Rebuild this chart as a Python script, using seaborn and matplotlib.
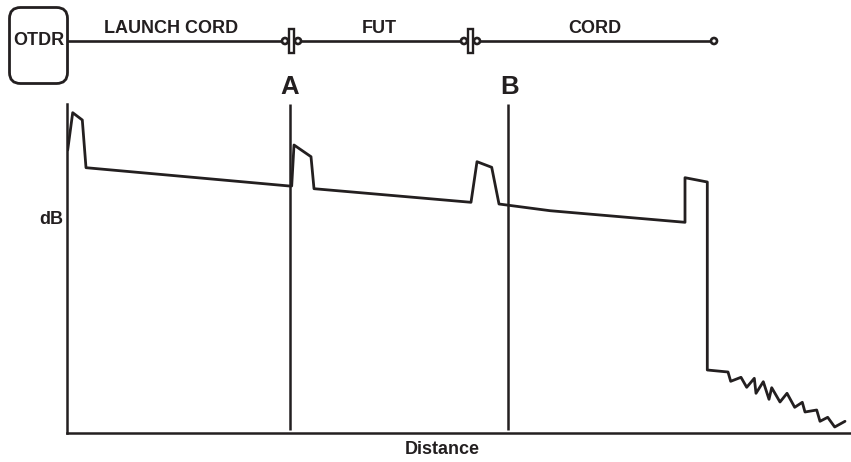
import matplotlib
matplotlib.use('Agg')
import pandas as pd
import seaborn as sns
import matplotlib.pyplot as plt
from matplotlib.patches import FancyBboxPatch, Circle, Rectangle

# trace (distance / dB in pixels from the axes corner)
distance = [0.7, 5.7, 15.3, 19, 222.3, 224.7, 227, 244, 247, 404, 410, 424.7, 432, 483, 618, 618, 640.3, 640.3,
            661, 663.7, 674, 679.7, 687.3, 689, 696.3, 702, 704.7, 713, 720, 727.7, 735.3, 738, 749.7, 753, 760.7, 767.7, 778]
db = [283, 320.3, 313, 265.3, 247, 247, 288, 276.3, 244.3, 230.7, 271.3, 265.7, 229, 222.3, 210.7, 255.3, 251, 63,
      61, 51.7, 55.7, 45.7, 54.7, 39.7, 51.3, 33.7, 45.3, 31, 39.7, 25.7, 30.7, 21, 23, 11.7, 15.7, 6, 11.7]
markers_x = [222.5, 441]
marker_names = ['A', 'B']
cord_names = ['LAUNCH CORD', 'FUT', 'CORD']
cord_label_x = [171.5, 379, 595]
connector_x = [291.5, 470.5]

df = pd.DataFrame({'Distance': distance, 'dB': db})
ink = '#231f20'
W, H = 851, 462

sns.set_style('white')
plt.rcParams['font.family'] = ['Liberation Sans', 'DejaVu Sans']

fig = plt.figure(figsize=(W / 100, H / 100), dpi=100)

# chart axes
ax = fig.add_axes([67 / W, 1 - 433 / H, (W - 67) / W, 329 / H])
sns.lineplot(data=df, x='Distance', y='dB', sort=False, estimator=None, color=ink, lw=2, ax=ax)
ax.set_xlim(0, W - 67)
ax.set_ylim(0, 329)
ax.vlines(markers_x, 3, 329, color=ink, lw=1.8)
ax.set_xticks([])
ax.set_yticks([])
ax.set_xlabel('')
ax.set_ylabel('')
sns.despine(ax=ax)
for s in ['left', 'bottom']:
    ax.spines[s].set_linewidth(1.8)
    ax.spines[s].set_color(ink)
ax.patch.set_alpha(0)

# overlay in pixel coordinates for the cable diagram and labels
top = fig.add_axes([0, 0, 1, 1])
top.set_xlim(0, W)
top.set_ylim(H, 0)
top.axis('off')
top.patch.set_alpha(0)

top.add_patch(FancyBboxPatch((9.5, 7.5), 58, 76, boxstyle='round,pad=0,rounding_size=11',
                             fc='white', ec=ink, lw=2))
top.plot([68, 711], [41, 41], color=ink, lw=1.9)
for cx in connector_x:
    for off in [-6.5, 6.5]:
        top.add_patch(Circle((cx + off, 41), 3, fc='white', ec=ink, lw=1.9, zorder=3))
    top.add_patch(Rectangle((cx - 2.5, 28.5), 4.5, 24.5, fc='white', ec=ink, lw=1.7, zorder=4))
top.add_patch(Circle((714, 41), 3, fc='white', ec=ink, lw=1.9, zorder=3))

bold = dict(color=ink, fontweight='bold', ha='center', va='center')
top.text(38.5, 40.5, 'OTDR', fontsize=13, **bold)
for name, x in zip(cord_names, cord_label_x):
    top.text(x, 28.5, name, fontsize=13, **bold)
for name, x in zip(marker_names, [290, 510]):
    top.text(x, 87.5, name, fontsize=18.5, **bold)
top.text(51, 219.5, 'dB', fontsize=13, **bold)
top.text(442, 450, 'Distance', fontsize=13, **bold)

fig.savefig('out.png', dpi=100, facecolor='white')
